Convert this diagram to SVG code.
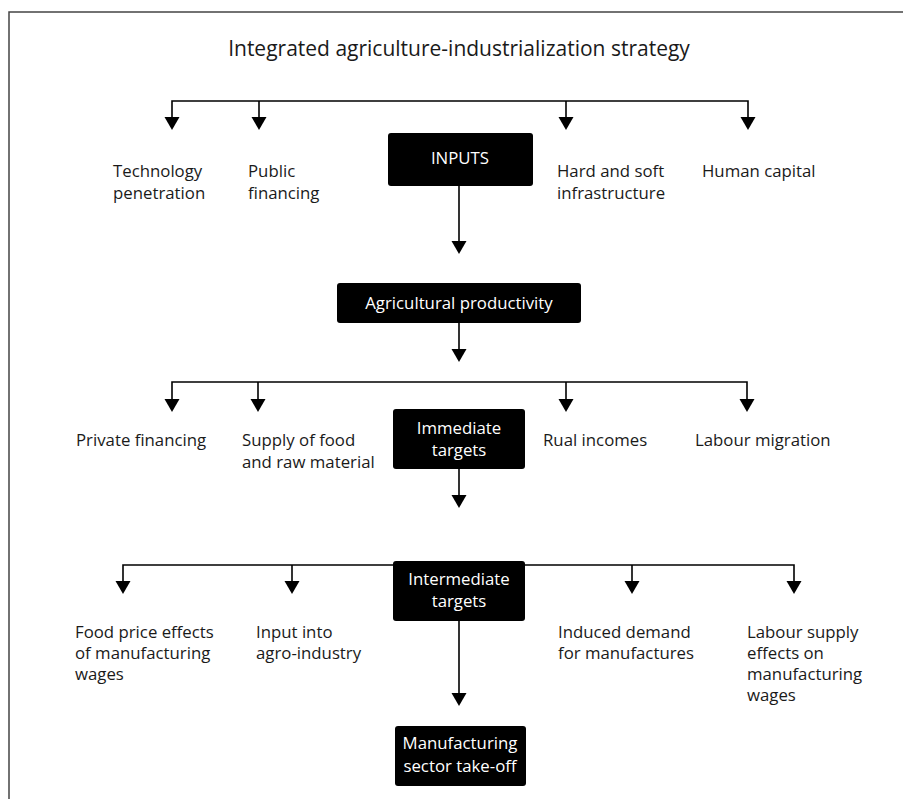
<svg xmlns="http://www.w3.org/2000/svg" width="903" height="799" viewBox="0 0 903 799">
<style>
text{font-family:"Open Sans","Noto Sans","Liberation Sans",sans-serif;font-size:16.8px;fill:#1a1a1a}
.t{fill:#fff;text-anchor:middle}
.box{fill:#000}
.ln{stroke:#000;stroke-width:1.6;fill:none}
.title{font-size:21px;text-anchor:middle}
.ah{fill:#000}
</style>
<rect width="903" height="799" fill="#fff"/>
<path d="M9,799 V12 H903" stroke="#444" stroke-width="1.5" fill="none"/>
<text class="title" x="459" y="56">Integrated agriculture-industrialization strategy</text>
<g id="connectors">
<path class="ln" d="M172,117 V101 H748 V117"/>
<path class="ln" d="M259,101 V117"/>
<path class="ln" d="M566,101 V117"/>
<polygon class="ah" points="164.5,117 179.5,117 172,130"/>
<polygon class="ah" points="251.5,117 266.5,117 259,130"/>
<polygon class="ah" points="558.5,117 573.5,117 566,130"/>
<polygon class="ah" points="740.5,117 755.5,117 748,130"/>
<path class="ln" d="M459,186 V241"/>
<polygon class="ah" points="451.5,241 466.5,241 459,254"/>
<path class="ln" d="M459,323 V349"/>
<polygon class="ah" points="451.5,349 466.5,349 459,362"/>
<path class="ln" d="M172,399 V382 H747 V399"/>
<path class="ln" d="M258,382 V399"/>
<path class="ln" d="M566,382 V399"/>
<polygon class="ah" points="164.5,399 179.5,399 172,412"/>
<polygon class="ah" points="250.5,399 265.5,399 258,412"/>
<polygon class="ah" points="558.5,399 573.5,399 566,412"/>
<polygon class="ah" points="739.5,399 754.5,399 747,412"/>
<path class="ln" d="M459,469 V495"/>
<polygon class="ah" points="451.5,495 466.5,495 459,508"/>
<path class="ln" d="M123,582 V565 H794 V582"/>
<path class="ln" d="M292,565 V582"/>
<path class="ln" d="M632,565 V582"/>
<polygon class="ah" points="115.5,581 130.5,581 123,594"/>
<polygon class="ah" points="284.5,581 299.5,581 292,594"/>
<polygon class="ah" points="624.5,581 639.5,581 632,594"/>
<polygon class="ah" points="786.5,581 801.5,581 794,594"/>
<path class="ln" d="M459,621 V693"/>
<polygon class="ah" points="451.5,693 466.5,693 459,706"/>
</g>
<g id="inputs"><rect class="box" x="388" y="133" width="145" height="53" rx="3"/><text class="t" x="460" y="164">INPUTS</text></g>
<g id="tech"><text x="113" y="177">Technology</text><text x="113" y="199">penetration</text></g>
<g id="public"><text x="248" y="177">Public</text><text x="248" y="199">financing</text></g>
<g id="infra"><text x="557" y="177">Hard and soft</text><text x="557" y="199">infrastructure</text></g>
<g id="human"><text x="702" y="177">Human capital</text></g>
<g id="agri"><rect class="box" x="337" y="283" width="244" height="40" rx="3"/><text class="t" x="459" y="309">Agricultural productivity</text></g>
<g id="immediate"><rect class="box" x="393" y="409" width="132" height="60" rx="3"/><text class="t" x="459" y="434">Immediate</text><text class="t" x="459" y="456">targets</text></g>
<g id="private"><text x="76" y="446">Private financing</text></g>
<g id="supply"><text x="242" y="446">Supply of food</text><text x="242" y="468">and raw material</text></g>
<g id="rural"><text x="543" y="446">Rual incomes</text></g>
<g id="labmig"><text x="695" y="446">Labour migration</text></g>
<g id="intermediate"><rect class="box" x="393" y="561" width="132" height="60" rx="3"/><text class="t" x="459" y="585">Intermediate</text><text class="t" x="459" y="607">targets</text></g>
<g id="foodprice"><text x="75" y="638">Food price effects</text><text x="75" y="659">of manufacturing</text><text x="75" y="680">wages</text></g>
<g id="input"><text x="256" y="638">Input into</text><text x="256" y="659">agro-industry</text></g>
<g id="induced"><text x="558" y="638">Induced demand</text><text x="558" y="659">for manufactures</text></g>
<g id="laboursupply"><text x="747" y="638">Labour supply</text><text x="747" y="659">effects on</text><text x="747" y="680">manufacturing</text><text x="747" y="701">wages</text></g>
<g id="manufacturing"><rect class="box" x="395" y="726" width="131" height="60" rx="3"/><text class="t" x="460" y="749">Manufacturing</text><text class="t" x="460" y="772">sector take-off</text></g>
</svg>
